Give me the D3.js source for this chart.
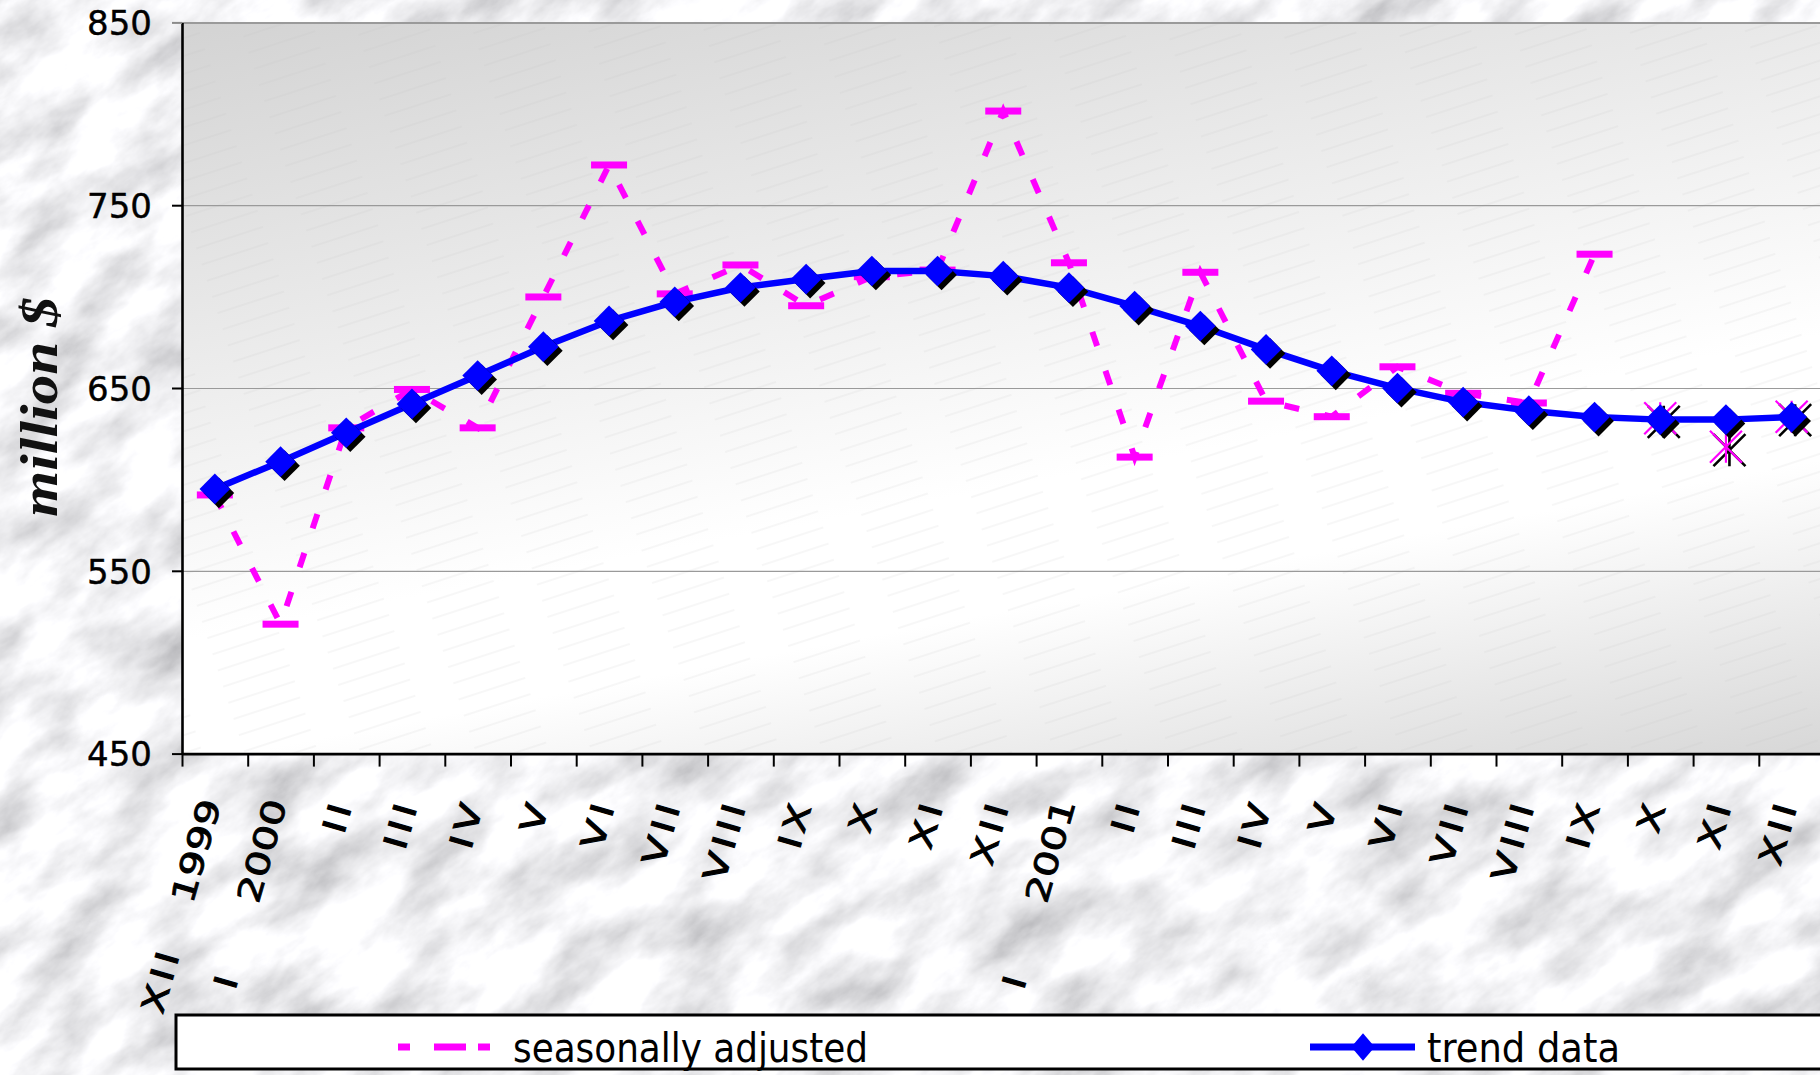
<!DOCTYPE html>
<html><head><meta charset="utf-8">
<script src="https://cdn.jsdelivr.net/npm/d3@7"></script>
<style>html,body{margin:0;padding:0;overflow:hidden;background:#e0e0e0}</style>
</head><body>
<svg id="chart" width="1820" height="1075"></svg>
<script>
// ---- data ----
const months = ["XII","I","II","III","IV","V","VI","VII","VIII","IX","X","XI","XII",
                "I","II","III","IV","V","VI","VII","VIII","IX","X","XI","XII"];
const years  = ["1999","2000","","","","","","","","","","","",
                "2001","","","","","","","","","","",""];
const seasonal = [591.5,520.8,628.2,649.2,628.2,699.8,772.0,701.5,717.3,695.0,710.9,714.5,801.5,
                  718.5,612.2,713.3,642.8,634.3,661.6,647.1,641.8,723.2,null,null,null];
const trend    = [594.8,609.7,625.5,641.3,656.8,672.6,686.7,697.1,705.0,709.6,714.0,714.0,711.2,
                  704.9,694.8,683.9,671.1,659.4,649.9,642.3,637.6,634.1,632.7,632.7,634.1];
const outlook  = [null,null,null,null,null,null,null,null,null,null,null,null,null,
                  null,null,null,null,null,null,null,null,null,633.4,617.9,634.3];
const yTicks = [450,550,650,750,850];
const seriesNames = ["seasonally adjusted","trend data"];

// ---- layout ----
const W = 1820, H = 1075;
const plot = {left:182, right:1824.5, top:22.4, bottom:753.6};
const n = months.length;

const svg = d3.select("#chart");
const defs = svg.append("defs");

// marble texture
const f = defs.append("filter").attr("id","marble").attr("filterUnits","userSpaceOnUse")
  .attr("x",-1000).attr("y",-1000).attr("width",4000).attr("height",4000);
f.append("feTurbulence").attr("type","fractalNoise").attr("baseFrequency","0.011 0.022")
  .attr("numOctaves",6).attr("seed",11);
f.append("feColorMatrix").attr("type","matrix")
  .attr("values","0.9 0 0 0 0.44  0.9 0 0 0 0.44  0.9 0 0 0 0.46  0 0 0 0 1");

// plot gradient
const g0 = defs.append("linearGradient").attr("id","plotGrad").attr("gradientUnits","userSpaceOnUse")
  .attr("x1",182).attr("y1",22).attr("x2",367).attr("y2",1018);
[[0,"#d3d3d3"],[0.6,"#ffffff"],[0.72,"#ffffff"],[1,"#d8d8d8"]].forEach(s=>
  g0.append("stop").attr("offset",s[0]).attr("stop-color",s[1]));

// faint hatch
const pat = defs.append("pattern").attr("id","hatch").attr("patternUnits","userSpaceOnUse")
  .attr("width",110).attr("height",17).attr("patternTransform","rotate(-18)");
pat.append("line").attr("x1",0).attr("x2",70).attr("y1",8).attr("y2",8)
  .attr("stroke","#bcbcbc").attr("stroke-width",0.7).attr("opacity",0.35);

// background
svg.append("g").attr("transform",`rotate(-35 ${W/2} ${H/2})`)
  .append("rect").attr("x",-700).attr("y",-900).attr("width",3300).attr("height",2900)
  .attr("filter","url(#marble)");

// scales
const x = d3.scaleBand().domain(d3.range(n)).range([plot.left, plot.right]);
const xEdge = d3.scaleLinear().domain([0,n]).range([plot.left, plot.right]);
const y = d3.scaleLinear().domain([450,850]).range([plot.bottom, plot.top]);
const cx = i => x(i) + x.bandwidth()/2;

// plot area
svg.append("rect").attr("x",plot.left).attr("y",plot.top)
  .attr("width",plot.right-plot.left).attr("height",plot.bottom-plot.top).attr("fill","url(#plotGrad)");
svg.append("rect").attr("x",plot.left).attr("y",plot.top)
  .attr("width",plot.right-plot.left).attr("height",plot.bottom-plot.top).attr("fill","url(#hatch)");

// gridlines
const grid = svg.append("g").attr("transform",`translate(${plot.left},0)`)
  .call(d3.axisLeft(y).tickValues(yTicks.filter(v=>v>450)).tickSize(-(plot.right-plot.left)).tickFormat(""));
grid.select(".domain").remove();
grid.selectAll("line").attr("stroke","#9a9a9a").attr("stroke-width",d=>d===850?2:1.2);

// y axis
const ya = svg.append("g").attr("transform",`translate(${plot.left},0)`)
  .call(d3.axisLeft(y).tickValues(yTicks).tickSize(10).tickSizeOuter(0).tickPadding(20).tickFormat(d3.format("d")));
ya.select(".domain").attr("stroke","#000").attr("stroke-width",2.6);
ya.selectAll(".tick line").attr("stroke",d=>d===850?"#8a8a8a":"#000").attr("stroke-width",2);
ya.selectAll(".tick text").attr("font-family","'DejaVu Sans', Verdana, sans-serif")
  .attr("font-size",34).attr("fill","#000").attr("stroke","#000").attr("stroke-width",0.4).attr("dy","0.36em");

// x axis (ticks between categories)
const xa = svg.append("g").attr("transform",`translate(0,${plot.bottom})`)
  .call(d3.axisBottom(xEdge).tickValues(d3.range(0,n+1)).tickSize(13).tickSizeOuter(0).tickFormat(""));
xa.select(".domain").attr("stroke","#000").attr("stroke-width",2.6);
xa.selectAll(".tick line").attr("stroke","#000").attr("stroke-width",2);

// x labels
const labelFont = "'DejaVu Sans', Verdana, sans-serif";
const lab = svg.append("g").attr("font-family",labelFont).attr("font-size",32).attr("fill","#000")
  .attr("stroke","#000").attr("stroke-width",0.9);
d3.range(n).forEach(i=>{
  const near = years[i] || months[i];
  lab.append("text")
    .attr("transform",`translate(${cx(i)-4},800) rotate(-74) scale(1.3,1)`)
    .attr("text-anchor","end").attr("dy","0.35em")
    .attr("letter-spacing", years[i] ? 0 : 3.5)
    .text(near);
  if (years[i]) {
    lab.append("text")
      .attr("transform",`translate(${cx(i)-54},980) rotate(-74) scale(1.3,1)`)
      .attr("text-anchor","middle").attr("dy","0.35em").attr("letter-spacing",3.5)
      .text(months[i]);
  }
});

// y title
svg.append("text").attr("transform","translate(57,407) rotate(-90)")
  .attr("text-anchor","middle").attr("font-family","'Liberation Serif','Times New Roman',serif")
  .attr("font-weight","bold").attr("font-style","italic").attr("font-size",52)
  .attr("textLength",220).attr("lengthAdjust","spacingAndGlyphs").attr("fill","#111")
  .text("million $");

// seasonally adjusted series
const magenta = "#ff00ff";
const sLine = d3.line().defined(d=>d!=null).x((d,i)=>cx(i)).y(d=>y(d));
svg.append("path").attr("d",sLine(seasonal)).attr("fill","none").attr("stroke",magenta)
  .attr("stroke-width",6).attr("stroke-dasharray","15 26");
svg.append("g").selectAll("rect").data(seasonal.map((v,i)=>({v,i})).filter(d=>d.v!=null))
  .join("rect").attr("x",d=>cx(d.i)-18).attr("y",d=>y(d.v)-3.5).attr("width",36).attr("height",7)
  .attr("fill",magenta);

// star markers for last months
const starPath = "M-16,-16L16,16M16,-16L-16,16M0,-16L0,16";
const stars = outlook.map((v,i)=>({v,i})).filter(d=>d.v!=null);
svg.append("g").selectAll("path").data(stars).join("path")
  .attr("transform",d=>`translate(${cx(d.i)+3.5},${y(d.v)+3.5})`).attr("d",starPath)
  .attr("stroke","#000").attr("stroke-width",2.6).attr("fill","none");
svg.append("g").selectAll("path").data(stars).join("path")
  .attr("transform",d=>`translate(${cx(d.i)},${y(d.v)})`).attr("d",starPath)
  .attr("stroke",magenta).attr("stroke-width",2.2).attr("fill","none");

// trend series
const blue = "#0000ff";
const tLine = d3.line().x((d,i)=>cx(i)).y(d=>y(d));
svg.append("path").attr("d",tLine(trend)).attr("fill","none").attr("stroke",blue)
  .attr("stroke-width",6.5).attr("stroke-linejoin","round");
const diamond = d3.symbol().type(d3.symbolSquare).size(470);
const tg = svg.append("g");
tg.selectAll("path.sh").data(trend).join("path").attr("class","sh")
  .attr("transform",(d,i)=>`translate(${cx(i)+4},${y(d)+4}) rotate(45)`).attr("d",diamond()).attr("fill","#000");
tg.selectAll("path.dm").data(trend).join("path").attr("class","dm")
  .attr("transform",(d,i)=>`translate(${cx(i)},${y(d)}) rotate(45)`).attr("d",diamond()).attr("fill",blue);

// legend
const lg = svg.append("g");
lg.append("rect").attr("x",176).attr("y",1015).attr("width",1700).attr("height",54)
  .attr("fill","#fff").attr("stroke","#000").attr("stroke-width",3);
lg.append("line").attr("x1",398).attr("x2",491).attr("y1",1047).attr("y2",1047)
  .attr("stroke",magenta).attr("stroke-width",7).attr("stroke-dasharray","12 68");
lg.append("rect").attr("x",434).attr("y",1043.5).attr("width",32).attr("height",7).attr("fill",magenta);
lg.append("text").attr("x",513).attr("y",1062).attr("font-family","'DejaVu Sans Condensed','DejaVu Sans',sans-serif")
  .attr("font-stretch","condensed").attr("font-size",40).attr("textLength",355).attr("lengthAdjust","spacingAndGlyphs")
  .text(seriesNames[0]);
lg.append("line").attr("x1",1310).attr("x2",1415).attr("y1",1047).attr("y2",1047)
  .attr("stroke",blue).attr("stroke-width",7);
lg.append("path").attr("transform","translate(1363,1047) scale(0.85,1) rotate(45)")
  .attr("d",d3.symbol().type(d3.symbolSquare).size(380)()).attr("fill",blue);
lg.append("text").attr("x",1427).attr("y",1062).attr("font-family","'DejaVu Sans Condensed','DejaVu Sans',sans-serif")
  .attr("font-stretch","condensed").attr("font-size",40).attr("textLength",193).attr("lengthAdjust","spacingAndGlyphs")
  .text(seriesNames[1]);
</script>
</body></html>
